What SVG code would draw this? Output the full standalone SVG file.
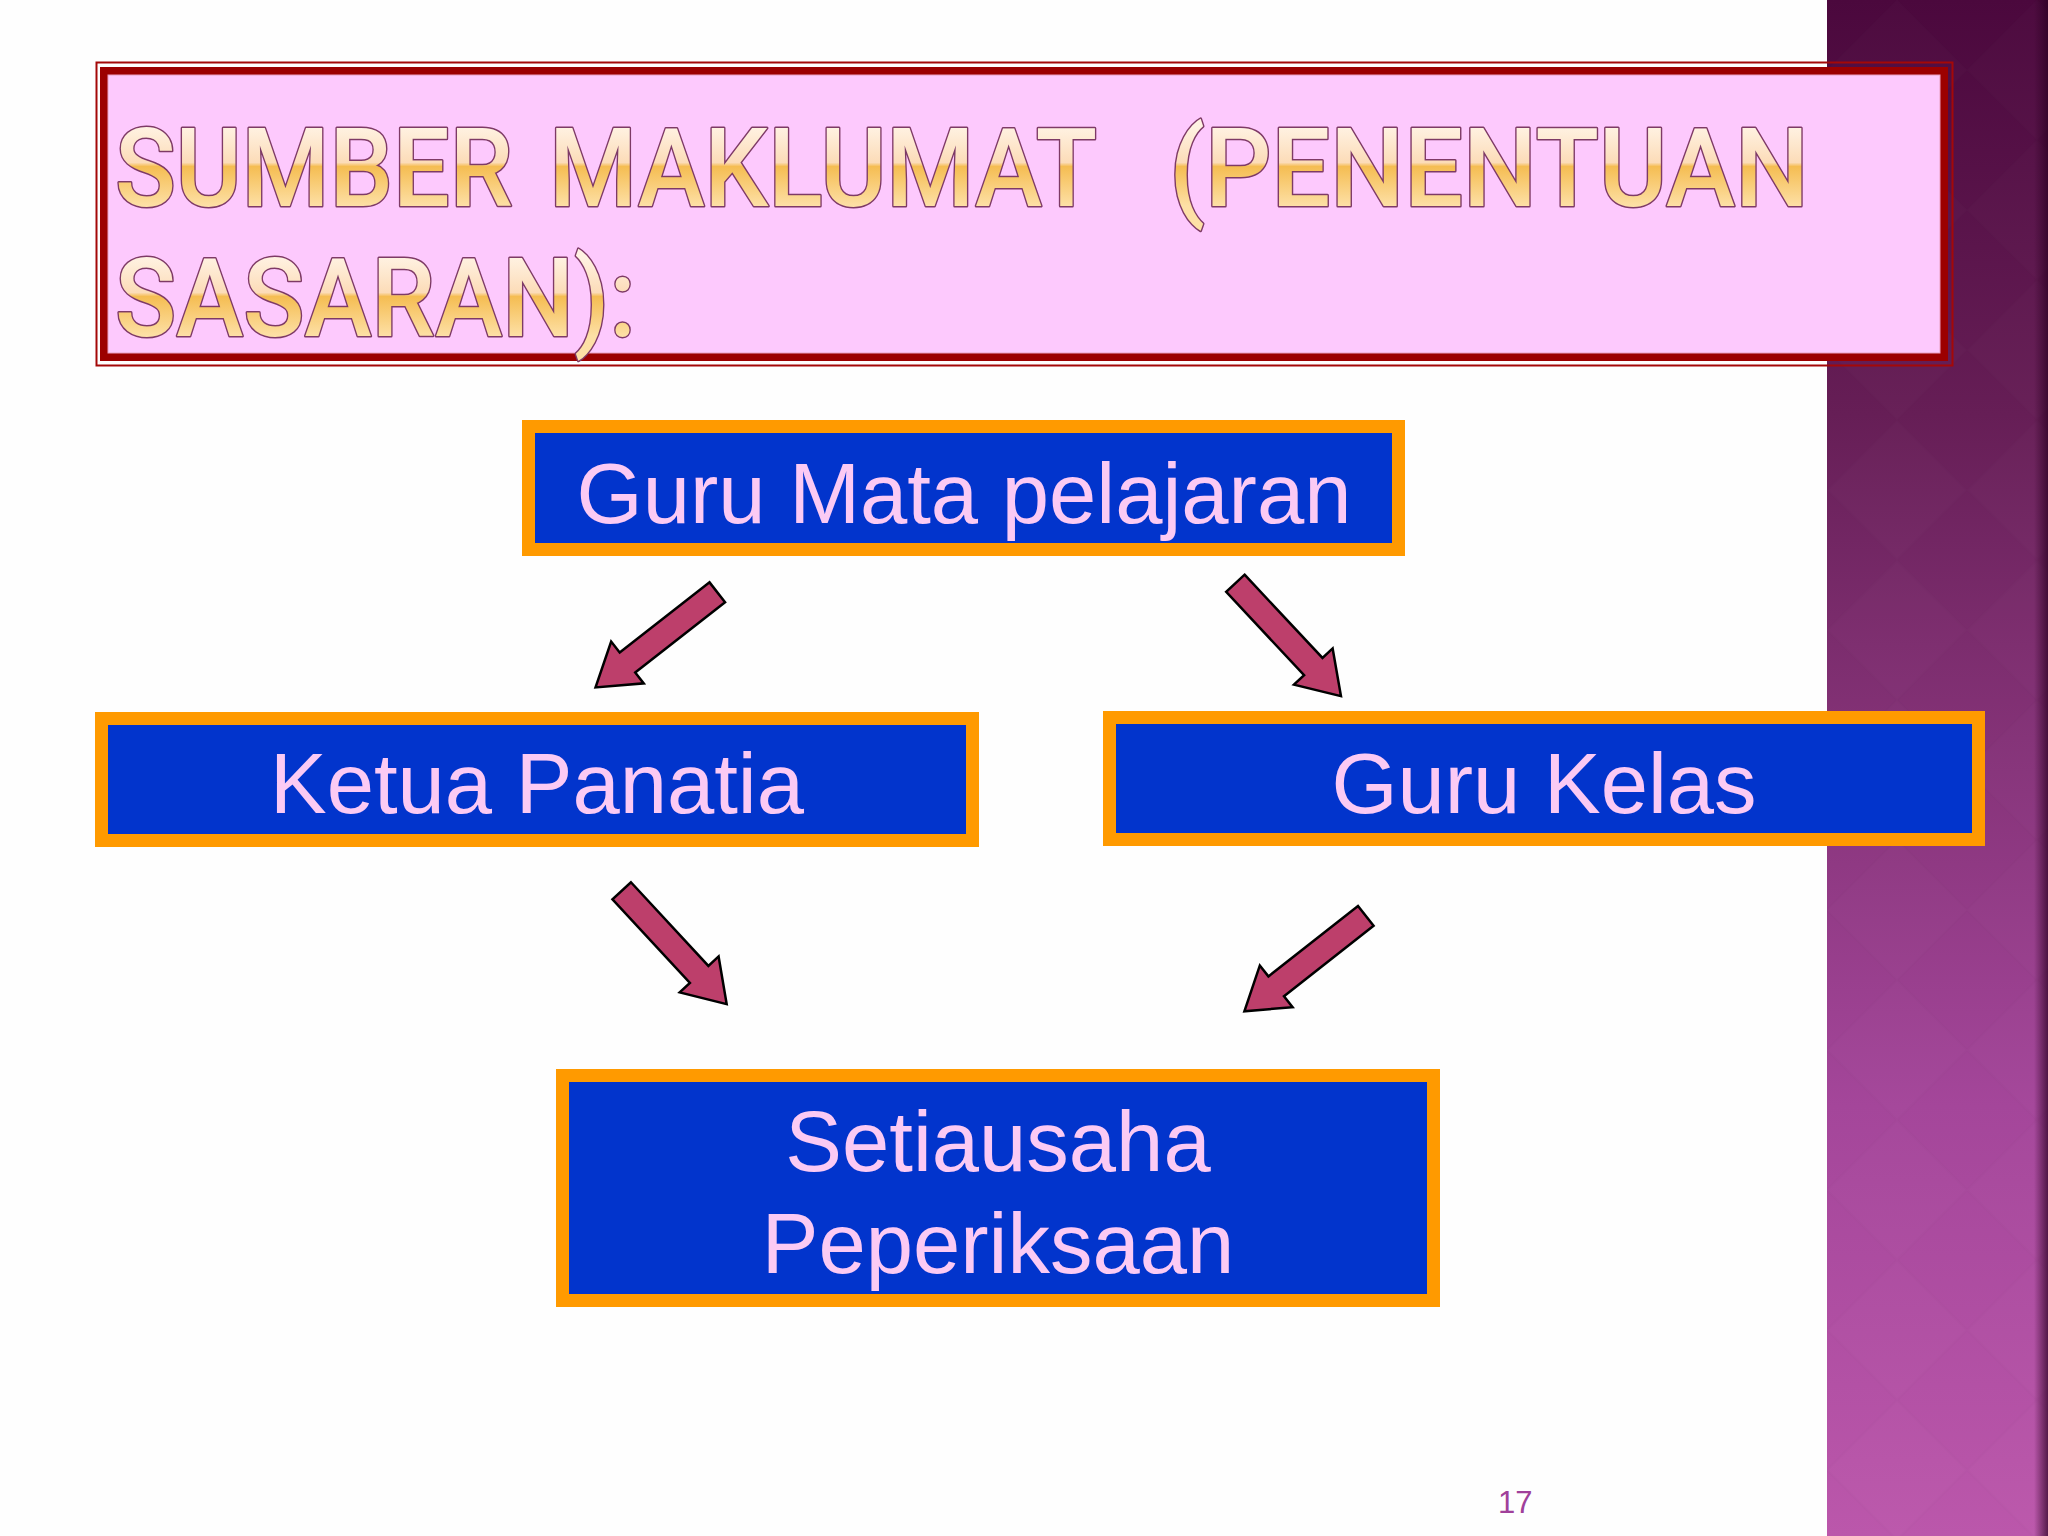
<svg xmlns="http://www.w3.org/2000/svg" width="2048" height="1536" viewBox="0 0 2048 1536">
  <style>
    .box { fill: #0234cc; stroke: #ff9a00; stroke-width: 13; }
    .lbl { font-family: "Liberation Sans", Arial, sans-serif; font-size: 85px; fill: #fbcaf4; text-anchor: middle; }
    .arrow { fill: #bd3f6b; stroke: #000; stroke-width: 2.5; stroke-linejoin: miter; }
    .title { font-family: Roboto, "DejaVu Sans", sans-serif; font-weight: 500; font-size: 110px; stroke: #7e3a66; stroke-width: 3; paint-order: stroke; stroke-linejoin: round; }
    .pnum { font-family: "Liberation Sans", Arial, sans-serif; font-size: 31px; fill: #a0409a; }
  </style>
  <defs>
    <linearGradient id="side" x1="0" y1="0" x2="0" y2="1">
      <stop offset="0" stop-color="#4b083d"/>
      <stop offset="0.27" stop-color="#661e56"/>
      <stop offset="0.42" stop-color="#7c2d6e"/>
      <stop offset="0.72" stop-color="#a4469a"/>
      <stop offset="1" stop-color="#bb57ab"/>
    </linearGradient>
    <linearGradient id="edge" x1="0" y1="0" x2="1" y2="0">
      <stop offset="0" stop-color="#2a0020" stop-opacity="0"/>
      <stop offset="1" stop-color="#2a0020" stop-opacity="0.7"/>
    </linearGradient>
    <pattern id="diam" x="1827" y="0" width="140" height="140" patternUnits="userSpaceOnUse">
      <path d="M70,0 L140,70 L70,140 L0,70 Z" fill="#ffffff" fill-opacity="0.012" stroke="#000000" stroke-opacity="0.012" stroke-width="2"/>
    </pattern>
    <linearGradient id="tg1" gradientUnits="userSpaceOnUse" x1="0" y1="127" x2="0" y2="206">
      <stop offset="0" stop-color="#fff2e2"/>
      <stop offset="0.45" stop-color="#fcdcb8"/>
      <stop offset="0.5" stop-color="#f5bd52"/>
      <stop offset="1" stop-color="#fde0a6"/>
    </linearGradient>
    <linearGradient id="tg2" gradientUnits="userSpaceOnUse" x1="0" y1="257" x2="0" y2="336">
      <stop offset="0" stop-color="#fff2e2"/>
      <stop offset="0.45" stop-color="#fcdcb8"/>
      <stop offset="0.5" stop-color="#f5bd52"/>
      <stop offset="1" stop-color="#fde0a6"/>
    </linearGradient>
    <path id="arr" d="M0,-12.6 L114,-12.6 L114,-26.5 L154.5,0 L114,26.5 L114,12.6 L0,12.6 Z"/>
  </defs>

  <!-- background -->
  <rect x="0" y="0" width="2048" height="1536" fill="#fefefe"/>
  <rect x="1827" y="0" width="221" height="1536" fill="url(#side)"/>
  <rect x="1827" y="0" width="221" height="1536" fill="url(#diam)"/>
  <rect x="2034" y="0" width="14" height="1536" fill="url(#edge)"/>

  <!-- title -->
  <g id="title">
    <rect x="96.5" y="62.5" width="1856" height="303" fill="none" stroke="#a40808" stroke-width="2"/>
    <rect x="104" y="71" width="1840" height="286" fill="none" stroke="#9c0000" stroke-width="8"/>
    <rect x="108" y="75" width="1832" height="278" fill="#fdc9fd" stroke="#e8a0c0" stroke-width="1"/>
    <text class="title" x="115" y="206" fill="url(#tg1)" textLength="398" lengthAdjust="spacingAndGlyphs">SUMBER</text>
    <text class="title" x="549" y="206" fill="url(#tg1)" textLength="548" lengthAdjust="spacingAndGlyphs">MAKLUMAT</text>
    <text class="title" x="1169" y="206" fill="url(#tg1)" textLength="640" lengthAdjust="spacingAndGlyphs">(PENENTUAN</text>
    <text class="title" x="115" y="336" fill="url(#tg2)" textLength="521" lengthAdjust="spacingAndGlyphs">SASARAN):</text>
  </g>

  <!-- nodes -->
  <g id="node-guru-mata-pelajaran">
    <rect class="box" x="528.5" y="426.5" width="870" height="123"/>
    <text class="lbl" x="964" y="523">Guru Mata pelajaran</text>
  </g>
  <g id="node-ketua-panatia">
    <rect class="box" x="101.5" y="718.5" width="871" height="122"/>
    <text class="lbl" x="537" y="813">Ketua Panatia</text>
  </g>
  <g id="node-guru-kelas">
    <rect class="box" x="1109.5" y="717.5" width="869" height="122"/>
    <text class="lbl" x="1544" y="813">Guru Kelas</text>
  </g>
  <g id="node-setiausaha">
    <rect class="box" x="562.5" y="1075.5" width="871" height="225"/>
    <text class="lbl" x="998" y="1171">Setiausaha</text>
    <text class="lbl" x="998" y="1273">Peperiksaan</text>
  </g>

  <!-- connectors -->
  <g id="connectors">
    <use href="#arr" class="arrow" transform="translate(717.3,592.3) rotate(142)"/>
    <use href="#arr" class="arrow" transform="translate(1235.4,583.3) rotate(46.9)"/>
    <use href="#arr" class="arrow" transform="translate(621.7,890.8) rotate(47.2)"/>
    <use href="#arr" class="arrow" transform="translate(1365.8,915.8) rotate(141.8)"/>
  </g>

  <text class="pnum" x="1498" y="1513">17</text>
</svg>
